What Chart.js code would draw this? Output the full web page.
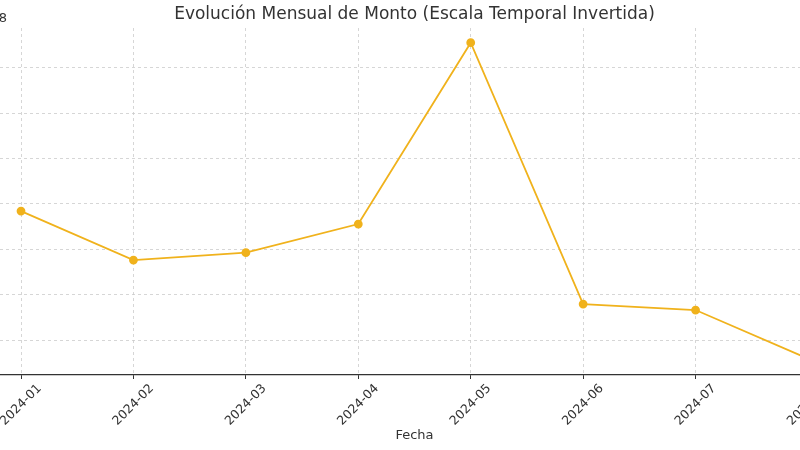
<!DOCTYPE html>
<html>
<head>
<meta charset="utf-8">
<script src="https://cdn.jsdelivr.net/npm/chart.js@4"></script>
<style>
  html, body { margin: 0; padding: 0; background: #fff; overflow: hidden; }
  #wrap { position: absolute; left: -60px; top: 0; width: 920px; height: 450px; }
</style>
</head>
<body>
<div id="wrap"><canvas id="montoChart"></canvas></div>
<script>
// data
const meses = ['2024-01', '2024-02', '2024-03', '2024-04', '2024-05', '2024-06', '2024-07', '2024-08'];
const montos = [242200000, 188200000, 196300000, 227900000, 427800000, 139700000, 133100000, 79600000];
const yTicks = [1.0e8, 1.5e8, 2.0e8, 2.5e8, 3.0e8, 3.5e8, 4.0e8];

const titulo = 'Evolución Mensual de Monto (Escala Temporal Invertida)';
const ejeX = 'Fecha';
const FONT = '"DejaVu Sans", sans-serif';

// custom text: title, rotated month labels, axis label, offset text
const textos = {
    id: 'textos',
    afterDraw(chart) {
        const ctx = chart.ctx;
        const area = chart.chartArea;
        const xs = chart.scales.x;
        ctx.save();
        ctx.fillStyle = '#333';

        ctx.font = '17px ' + FONT;
        ctx.textAlign = 'center';
        ctx.textBaseline = 'middle';
        ctx.fillText(titulo, (area.left + area.right) / 2, 15);

        ctx.font = '12.5px ' + FONT;
        meses.forEach((m, i) => {
            const px = xs.getPixelForValue(i);
            ctx.save();
            ctx.translate(px, area.bottom + 30);
            ctx.rotate(-Math.PI / 4);
            ctx.fillText(m, 0, 0);
            ctx.restore();
        });

        ctx.font = '13px ' + FONT;
        ctx.fillText(ejeX, (area.left + area.right) / 2, 436);

        ctx.font = '13px ' + FONT;
        ctx.textAlign = 'right';
        ctx.fillText('1e8', 67, 19);
        ctx.restore();
    }
};

new Chart(document.getElementById('montoChart'), {
    type: 'line',
    data: {
        datasets: [{
            label: 'Monto',
            data: montos.map((v, i) => ({ x: i, y: v })),
            borderColor: '#f0b21c',
            backgroundColor: '#f0b21c',
            borderWidth: 1.8,
            pointRadius: 3.5,
            pointHoverRadius: 3.5,
            tension: 0
        }]
    },
    options: {
        responsive: true,
        maintainAspectRatio: false,
        animation: false,
        layout: { padding: { top: 28, right: 13, left: 0, bottom: 0 } },
        plugins: {
            legend: { display: false },
            title: { display: false },
            tooltip: { enabled: false }
        },
        scales: {
            x: {
                type: 'linear',
                min: -0.347,
                max: 7.347,
                afterBuildTicks: s => { s.ticks = meses.map((m, i) => ({ value: i })); },
                afterFit: s => { s.height = 75; },
                ticks: { display: false },
                grid: {
                    color: '#cccccc',
                    lineWidth: 0.8,
                    tickLength: 4,
                    tickColor: '#333',
                    tickBorderDash: [],
                    tickWidth: 1
                },
                border: { display: true, color: '#333', width: 1.2, dash: [3, 3] }
            },
            y: {
                min: 0.615e8,
                max: 4.44e8,
                afterBuildTicks: s => { s.ticks = yTicks.map(v => ({ value: v })); },
                afterFit: s => { s.width = 42; },
                ticks: {
                    color: '#333',
                    font: { family: FONT, size: 12 },
                    callback: v => (v / 1e8).toFixed(1)
                },
                grid: {
                    color: '#cccccc',
                    lineWidth: 0.8,
                    tickLength: 4,
                    tickColor: '#333',
                    tickBorderDash: []
                },
                border: { display: false, dash: [3, 3] }
            }
        }
    },
    plugins: [textos]
});
</script>
</body>
</html>
